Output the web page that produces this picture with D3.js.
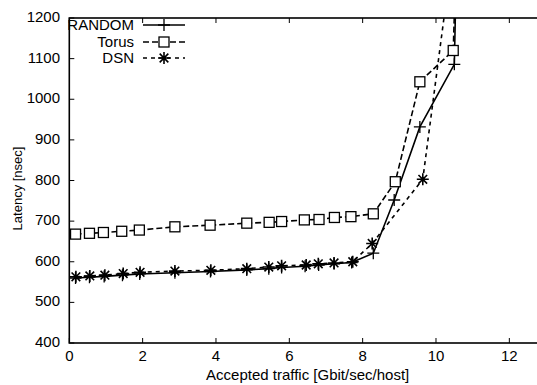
<!DOCTYPE html>
<html><head><meta charset="utf-8">
<script src="https://cdn.jsdelivr.net/npm/d3@7"></script>
<style>body{margin:0;background:#fff}svg{display:block}text{font-family:"Liberation Sans",Arial,Helvetica,sans-serif}</style>
</head><body><svg id="c" width="537" height="385"></svg>
<script>
const randomX = [0.17,0.55,0.95,1.45,1.92,2.88,3.85,4.84,5.44,5.79,6.43,6.8,7.22,7.7,8.29,8.86,9.56,10.5,10.55];
const randomY = [560,562,564,567,570,573,576,580,583,586,589,592,595,598,621,752,932,1086,1300];
const torusX = [0.17,0.55,0.93,1.43,1.91,2.88,3.84,4.84,5.45,5.79,6.41,6.81,7.23,7.68,8.29,8.89,9.56,10.47,10.55];
const torusY = [668,670,672,675,678,686,690,695,697,699,703,704,709,711,718,797,1043,1120,1350];
const dsnX = [0.18,0.56,0.97,1.47,1.93,2.88,3.86,4.84,5.44,5.79,6.46,6.79,7.22,7.73,8.26,9.64,10.45];
const dsnY = [563,565,567,571,574,577,579,583,587,590,592,595,597,600,645,803,1360];
const seriesNames = ["RANDOM","Torus","DSN"];
const xTicks = [0,2,4,6,8,10,12];
const yTicks = [400,500,600,700,800,900,1000,1100,1200];
const xLabel = "Accepted traffic [Gbit/sec/host]";
const yLabel = "Latency [nsec]";

const svg = d3.select("#c");
const L = 69.3, R = 546, T = 18, B = 343;
const x = d3.scaleLinear().domain([0,13]).range([L,R]);
const y = d3.scaleLinear().domain([400,1200]).range([B,T]);

svg.append("defs").append("clipPath").attr("id","clip")
  .append("rect").attr("x",L).attr("y",T).attr("width",R-L).attr("height",B-T);

const fs = 15;
// ticks
const tk = 5;
const g = svg.append("g");
xTicks.forEach(v=>{
  g.append("line").attr("x1",x(v)).attr("x2",x(v)).attr("y1",B).attr("y2",B-tk).attr("stroke","#000").attr("stroke-width",1);
  g.append("line").attr("x1",x(v)).attr("x2",x(v)).attr("y1",T).attr("y2",T+tk).attr("stroke","#000").attr("stroke-width",1);
  g.append("text").attr("x",x(v)).attr("y",361).attr("text-anchor","middle").attr("font-size",fs).text(v);
});
yTicks.forEach(v=>{
  g.append("line").attr("x1",L).attr("x2",L+tk).attr("y1",y(v)).attr("y2",y(v)).attr("stroke","#000").attr("stroke-width",1);
  g.append("line").attr("x1",R).attr("x2",R-tk).attr("y1",y(v)).attr("y2",y(v)).attr("stroke","#000").attr("stroke-width",1);
  g.append("text").attr("x",60).attr("y",y(v)+4).attr("text-anchor","end").attr("font-size",fs).text(v);
});
svg.append("rect").attr("x",L).attr("y",T).attr("width",R-L).attr("height",B-T)
  .attr("fill","none").attr("stroke","#000").attr("stroke-width",1.6);

svg.append("text").attr("x",(L+R)/2).attr("y",380).attr("text-anchor","middle").attr("font-size",fs).text(xLabel);
svg.append("text").attr("transform","translate(22,"+((T+B)/2+8)+") rotate(-90)").attr("text-anchor","middle").attr("font-size",13).text(yLabel);

const series = [
  {name:seriesNames[0], xs:randomX, ys:randomY, dash:null, mk:"plus"},
  {name:seriesNames[1], xs:torusX, ys:torusY, dash:"6,3", mk:"square"},
  {name:seriesNames[2], xs:dsnX, ys:dsnY, dash:"4,4", mk:"star"}
];
const line = d3.line().x(d=>x(d[0])).y(d=>y(d[1]));
function marker(sel, type, cx, cy){
  const s = 6;
  if(type==="plus"){
    sel.append("path").attr("d",`M${cx-s},${cy}H${cx+s}M${cx},${cy-s}V${cy+s}`).attr("stroke","#000").attr("stroke-width",1.3).attr("fill","none");
  } else if(type==="square"){
    sel.append("rect").attr("x",cx-5).attr("y",cy-5).attr("width",10).attr("height",10).attr("fill","#fff").attr("stroke","#000").attr("stroke-width",1.3);
  } else {
    const d = s*0.72;
    sel.append("path").attr("d",`M${cx-s},${cy}H${cx+s}M${cx},${cy-s}V${cy+s}M${cx-d},${cy-d}L${cx+d},${cy+d}M${cx-d},${cy+d}L${cx+d},${cy-d}`).attr("stroke","#000").attr("stroke-width",1.6).attr("fill","none");
  }
}
const plot = svg.append("g").attr("clip-path","url(#clip)");
series.forEach(s=>{
  const pts = s.xs.map((v,i)=>[v,s.ys[i]]);
  plot.append("path").datum(pts).attr("d",line).attr("fill","none").attr("stroke","#000")
    .attr("stroke-width",1.6).attr("stroke-dasharray",s.dash);
});
series.forEach(s=>{
  s.xs.forEach((v,i)=>{ if(s.ys[i]<=1200) marker(plot, s.mk, x(v), y(s.ys[i])); });
});
// legend
const legY = [25,42,58];
series.forEach((s,i)=>{
  const ly = legY[i];
  svg.append("text").attr("x",134).attr("y",ly+5).attr("text-anchor","end").attr("font-size",fs).text(s.name);
  svg.append("line").attr("x1",143).attr("x2",185).attr("y1",ly).attr("y2",ly).attr("stroke","#000").attr("stroke-width",1.6).attr("stroke-dasharray",s.dash);
  marker(svg, s.mk, 164, ly);
});
</script></body></html>
